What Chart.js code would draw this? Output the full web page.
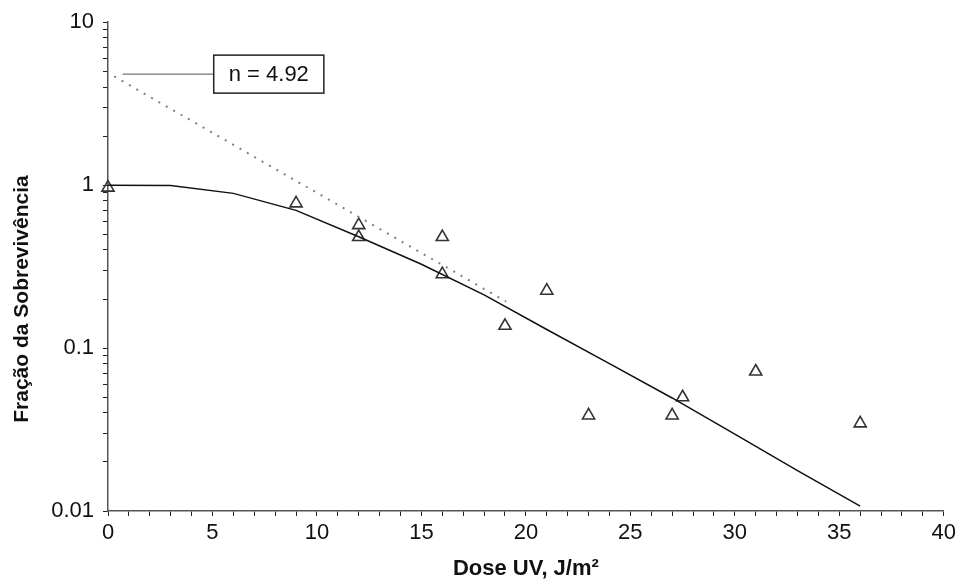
<!DOCTYPE html>
<html>
<head>
<meta charset="utf-8">
<script src="https://cdn.jsdelivr.net/npm/chart.js@4/dist/chart.umd.min.js"></script>
<style>
  html, body { margin:0; padding:0; background:#fff; }
  #wrap { width:960px; height:580px; }
</style>
</head>
<body>
<div id="wrap"><canvas id="chartSobrev" width="960" height="580"></canvas></div>
<script>
// dados
const doseMedida = [0, 9, 12, 12, 16, 16, 19, 21, 23, 27, 27.5, 31, 36];
const sobrevMedida = [0.965, 0.773, 0.568, 0.48, 0.48, 0.284, 0.137, 0.225, 0.0386, 0.0386, 0.0499, 0.0718, 0.0345];

const doseAjuste = [0, 3, 6, 9, 12, 15, 18, 21, 24, 27, 30, 33, 36];
const sobrevAjuste = [1.0, 0.995, 0.89, 0.70, 0.482, 0.327, 0.212, 0.130, 0.0803, 0.0494, 0.0296, 0.0177, 0.0107];

const doseExtrap = [0.3, 19.05];
const sobrevExtrap = [4.65, 0.193];

const doseGuia = [0.7, 5.06];
const sobrevGuia = [4.8, 4.8];

const xTicks = [0,1,2,3,4,5,6,7,8,9,10,11,12,13,14,15,16,17,18,19,20,21,22,23,24,25,26,27,28,29,30,31,32,33,34,35,36,37,38,39,40];
const xTickLabels = ["0","5","10","15","20","25","30","35","40"];
const xLabelEvery = 5;
const yMajor = [0.01, 0.1, 1, 10];
const yTickLabels = ["0.01","0.1","1","10"];
const yMinorMult = [2,3,4,5,6,7,8,9];

const nTexto = "n = 4.92";
const nPos = { x: 5.06, y: 4.8 };
const yTitulo = "Fração da Sobrevivência";
const yTituloCentro = 0.2;   // o título fica abaixo do meio do eixo

const FONT = '"Liberation Sans", Arial, sans-serif';
const pts = (xs, ys) => xs.map((x,i)=>({x, y: ys[i]}));

// caixa "n = 4.92" e título do eixo y (fora do centro, como no original)
const extras = {
  id: "extras",
  afterDatasetsDraw(chart){
    const {ctx, scales:{x, y}} = chart;
    const left = x.getPixelForValue(nPos.x);
    const cy = y.getPixelForValue(nPos.y);
    ctx.save();
    ctx.font = "22px " + FONT;
    const w = ctx.measureText(nTexto).width + 30, h = 38;
    ctx.fillStyle = "#fff";
    ctx.fillRect(left, cy - h/2, w, h);
    ctx.strokeStyle = "#222"; ctx.lineWidth = 1.5;
    ctx.strokeRect(left, cy - h/2, w, h);
    ctx.fillStyle = "#111"; ctx.textBaseline = "middle";
    ctx.fillText(nTexto, left + 15, cy + 1);

    ctx.translate(22, y.getPixelForValue(yTituloCentro));
    ctx.rotate(-Math.PI/2);
    ctx.font = "bold 21px " + FONT;
    ctx.textAlign = "center";
    ctx.fillText(yTitulo, 0, 0);
    ctx.restore();
  }
};

new Chart(document.getElementById("chartSobrev"), {
  type: "scatter",
  data: {
    datasets: [
      { data: pts(doseExtrap, sobrevExtrap), showLine:true, pointRadius:0, borderColor:"#808080", borderWidth:2, borderDash:[2,6.5] },
      { data: pts(doseAjuste, sobrevAjuste), showLine:true, pointRadius:0, borderColor:"#111", borderWidth:1.5, tension:0 },
      { data: pts(doseGuia, sobrevGuia), showLine:true, pointRadius:0, borderColor:"#555", borderWidth:1 },
      { data: pts(doseMedida, sobrevMedida), showLine:false, clip:false, pointStyle:"triangle", pointRadius:7, borderColor:"#333", borderWidth:1.6, backgroundColor:"rgba(0,0,0,0)" }
    ]
  },
  options: {
    responsive:false, animation:false,
    layout:{ padding:{ left:0, right:14, top:21, bottom:0 } },
    plugins:{ legend:{display:false}, tooltip:{enabled:false} },
    scales:{
      x:{
        type:"linear", min:0, max:40,
        afterBuildTicks: s => { s.ticks = xTicks.map(v=>({value:v})); },
        afterFit: s => { s.height = 69; },
        ticks:{ autoSkip:false, maxRotation:0, padding:4, color:"#111", font:{family:FONT, size:22},
          callback: v => v % xLabelEvery === 0 ? xTickLabels[v / xLabelEvery] : "" },
        grid:{ drawOnChartArea:false, drawTicks:true, tickLength:5, color:"#222" },
        border:{ display:true, color:"#555", width:1.5 },
        title:{ display:true, text:"Dose UV, J/m²", color:"#111", font:{family:FONT, size:22, weight:"bold", lineHeight:1.0}, padding:{top:0, bottom:0} }
      },
      y:{
        type:"logarithmic", min:0.01, max:10,
        afterBuildTicks: s => {
          const t = [];
          yMajor.forEach((d, i) => {
            t.push({value:d});
            if (i < yMajor.length - 1) yMinorMult.forEach(m => t.push({value:m * d}));
          });
          s.ticks = t;
        },
        afterFit: s => { s.width = 108; },
        ticks:{ autoSkip:false, padding:9, color:"#111", font:{family:FONT, size:22},
          callback: v => { const i = yMajor.findIndex(t => Math.abs(t - v) / t < 1e-6); return i >= 0 ? yTickLabels[i] : ""; } },
        grid:{ drawOnChartArea:false, drawTicks:true, tickLength:5, color:"#222" },
        border:{ display:true, color:"#555", width:1.5 }
      }
    }
  },
  plugins:[extras]
});
</script>
</body>
</html>
